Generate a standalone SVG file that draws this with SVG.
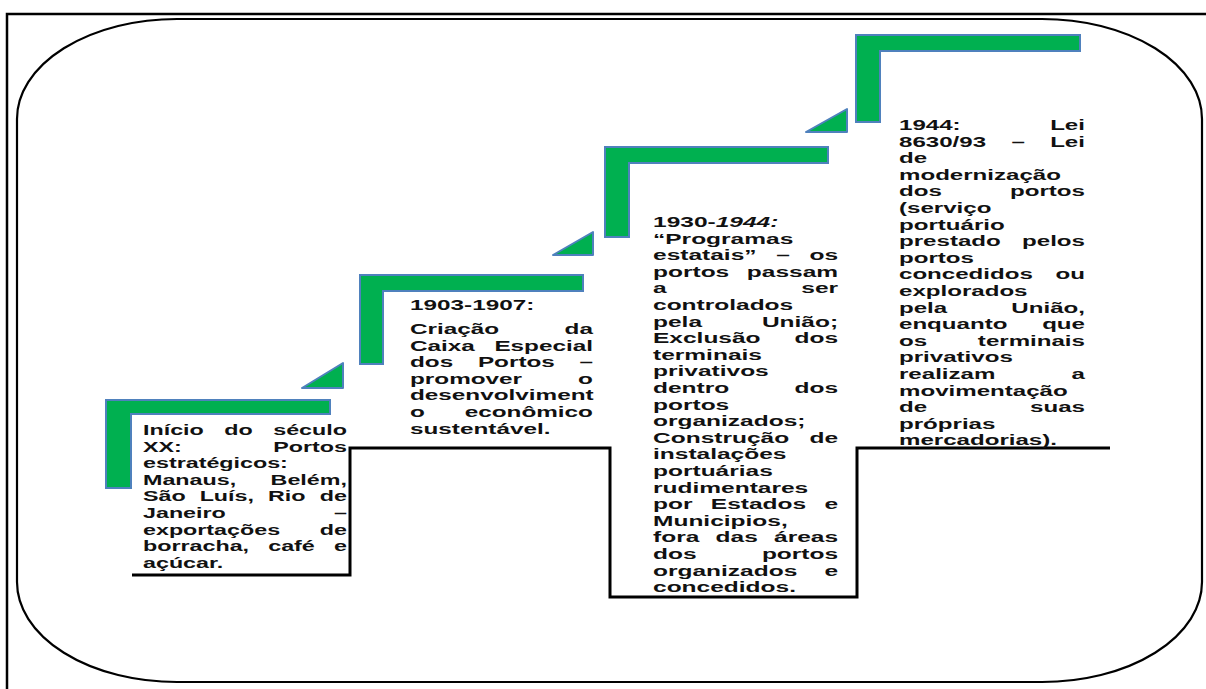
<svg xmlns="http://www.w3.org/2000/svg" width="1206" height="689" viewBox="0 0 1206 689">
<style>
.frame{fill:none;stroke:#000;stroke-width:2.5}
.rr{fill:#fff;stroke:#000;stroke-width:2.2}
.stepL{fill:#00b050;stroke:#4f81bd;stroke-width:2;stroke-linejoin:miter}
.tri{fill:#00b050;stroke:#4f81bd;stroke-width:2;stroke-linejoin:round}
.stair{fill:none;stroke:#000;stroke-width:3;stroke-linejoin:miter}
text{font-family:"Liberation Sans",Arial,sans-serif;font-weight:bold;font-size:15.5px;fill:#111}
.r{text-anchor:end}
.it{font-style:italic}
</style>
<rect width="1206" height="689" fill="#fff"/>
<g id="frame">
<path class="frame" d="M7,689 V14 H1206"/>
<rect class="rr" x="17" y="19" width="1185" height="663" rx="160" ry="100"/>
</g>
<g id="connectors">
<polyline class="stair" points="132,575 350,575 350,448 610,448 610,597 857,597 857,448 1110,448"/>
<polygon class="tri" points="302,388 343,363 343,388"/>
<polygon class="tri" points="553,255 593,232 593,255"/>
<polygon class="tri" points="806,132 847,109 847,132"/>
</g>
<g id="step1">
<polygon class="stepL" points="106,400 330,400 330,414 131,414 131,488 106,488"/>
<g transform="translate(143,0) scale(1.503,1)">
<text x="0" y="435">Início</text><text x="54.1" y="435">do</text><text class="r" x="135.7" y="435">século</text>
<text x="0" y="451.6">XX:</text><text class="r" x="135.7" y="451.6">Portos</text>
<text x="0" y="468.2">estratégicos:</text>
<text x="0" y="484.8">Manaus,</text><text class="r" x="135.7" y="484.8">Belém,</text>
<text x="0" y="501.4">São</text><text x="37.7" y="501.4">Luís,</text><text x="83.2" y="501.4">Rio</text><text class="r" x="135.7" y="501.4">de</text>
<text x="0" y="518">Janeiro</text><text class="r" x="135.7" y="518">–</text>
<text x="0" y="534.6">exportações</text><text class="r" x="135.7" y="534.6">de</text>
<text x="0" y="551.2">borracha,</text><text x="83.3" y="551.2">café</text><text class="r" x="135.7" y="551.2">e</text>
<text x="0" y="567.8">açúcar.</text>
</g>
</g>
<g id="step2">
<polygon class="stepL" points="360,275 583,275 583,291 383,291 383,364 360,364"/>
<g transform="translate(410,0) scale(1.568,1)">
<text x="0" y="310">1903-1907:</text>
<text x="0" y="334">Criação</text><text class="r" x="116.7" y="334">da</text>
<text x="0" y="350.6">Caixa</text><text class="r" x="116.7" y="350.6">Especial</text>
<text x="0" y="367.2">dos</text><text x="43.3" y="367.2">Portos</text><text class="r" x="116.7" y="367.2">–</text>
<text x="0" y="383.8">promover</text><text class="r" x="116.7" y="383.8">o</text>
<text x="0" y="400.4">desenvolviment</text>
<text x="0" y="417">o</text><text class="r" x="116.7" y="417">econômico</text>
<text x="0" y="433.6">sustentável.</text>
</g>
</g>
<g id="step3">
<polygon class="stepL" points="605,147 828,147 828,163 629,163 629,237 605,237"/>
<g transform="translate(653,0) scale(1.581,1)">
<text x="0" y="227">1930-<tspan class="it">1944:</tspan></text>
<text x="0" y="243.6">“Programas</text>
<text x="0" y="260.2">estatais”</text><text x="77.9" y="260.2">–</text><text class="r" x="117.1" y="260.2">os</text>
<text x="0" y="276.8">portos</text><text class="r" x="117.1" y="276.8">passam</text>
<text x="0" y="293.4">a</text><text class="r" x="117.1" y="293.4">ser</text>
<text x="0" y="310">controlados</text>
<text x="0" y="326.6">pela</text><text class="r" x="117.1" y="326.6">União;</text>
<text x="0" y="343.2">Exclusão</text><text class="r" x="117.1" y="343.2">dos</text>
<text x="0" y="359.8">terminais</text>
<text x="0" y="376.4">privativos</text>
<text x="0" y="393">dentro</text><text class="r" x="117.1" y="393">dos</text>
<text x="0" y="409.6">portos</text>
<text x="0" y="426.2">organizados;</text>
<text x="0" y="442.8">Construção</text><text class="r" x="117.1" y="442.8">de</text>
<text x="0" y="459.4">instalações</text>
<text x="0" y="476">portuárias</text>
<text x="0" y="492.6">rudimentares</text>
<text x="0" y="509.2">por</text><text x="36.6" y="509.2">Estados</text><text class="r" x="117.1" y="509.2">e</text>
<text x="0" y="525.8">Municipios,</text>
<text x="0" y="542.4">fora</text><text x="39.6" y="542.4">das</text><text class="r" x="117.1" y="542.4">áreas</text>
<text x="0" y="559">dos</text><text class="r" x="117.1" y="559">portos</text>
<text x="0" y="575.6">organizados</text><text class="r" x="117.1" y="575.6">e</text>
<text x="0" y="592.2">concedidos.</text>
</g>
</g>
<g id="step4">
<polygon class="stepL" points="856,35 1080,35 1080,51 880,51 880,122 856,122"/>
<g transform="translate(899,0) scale(1.555,1)">
<text x="0" y="130">1944:</text><text class="r" x="119.6" y="130">Lei</text>
<text x="0" y="146.6">8630/93</text><text x="72.3" y="146.6">–</text><text class="r" x="119.6" y="146.6">Lei</text>
<text x="0" y="163.2">de</text>
<text x="0" y="179.8">modernização</text>
<text x="0" y="196.4">dos</text><text class="r" x="119.6" y="196.4">portos</text>
<text x="0" y="213">(serviço</text>
<text x="0" y="229.6">portuário</text>
<text x="0" y="246.2">prestado</text><text class="r" x="119.6" y="246.2">pelos</text>
<text x="0" y="262.8">portos</text>
<text x="0" y="279.4">concedidos</text><text class="r" x="119.6" y="279.4">ou</text>
<text x="0" y="296">explorados</text>
<text x="0" y="312.6">pela</text><text class="r" x="119.6" y="312.6">União,</text>
<text x="0" y="329.2">enquanto</text><text class="r" x="119.6" y="329.2">que</text>
<text x="0" y="345.8">os</text><text class="r" x="119.6" y="345.8">terminais</text>
<text x="0" y="362.4">privativos</text>
<text x="0" y="379">realizam</text><text class="r" x="119.6" y="379">a</text>
<text x="0" y="395.6">movimentação</text>
<text x="0" y="412.2">de</text><text class="r" x="119.6" y="412.2">suas</text>
<text x="0" y="428.8">próprias</text>
<text x="0" y="445.4">mercadorias).</text>
</g>
</g>
</svg>
